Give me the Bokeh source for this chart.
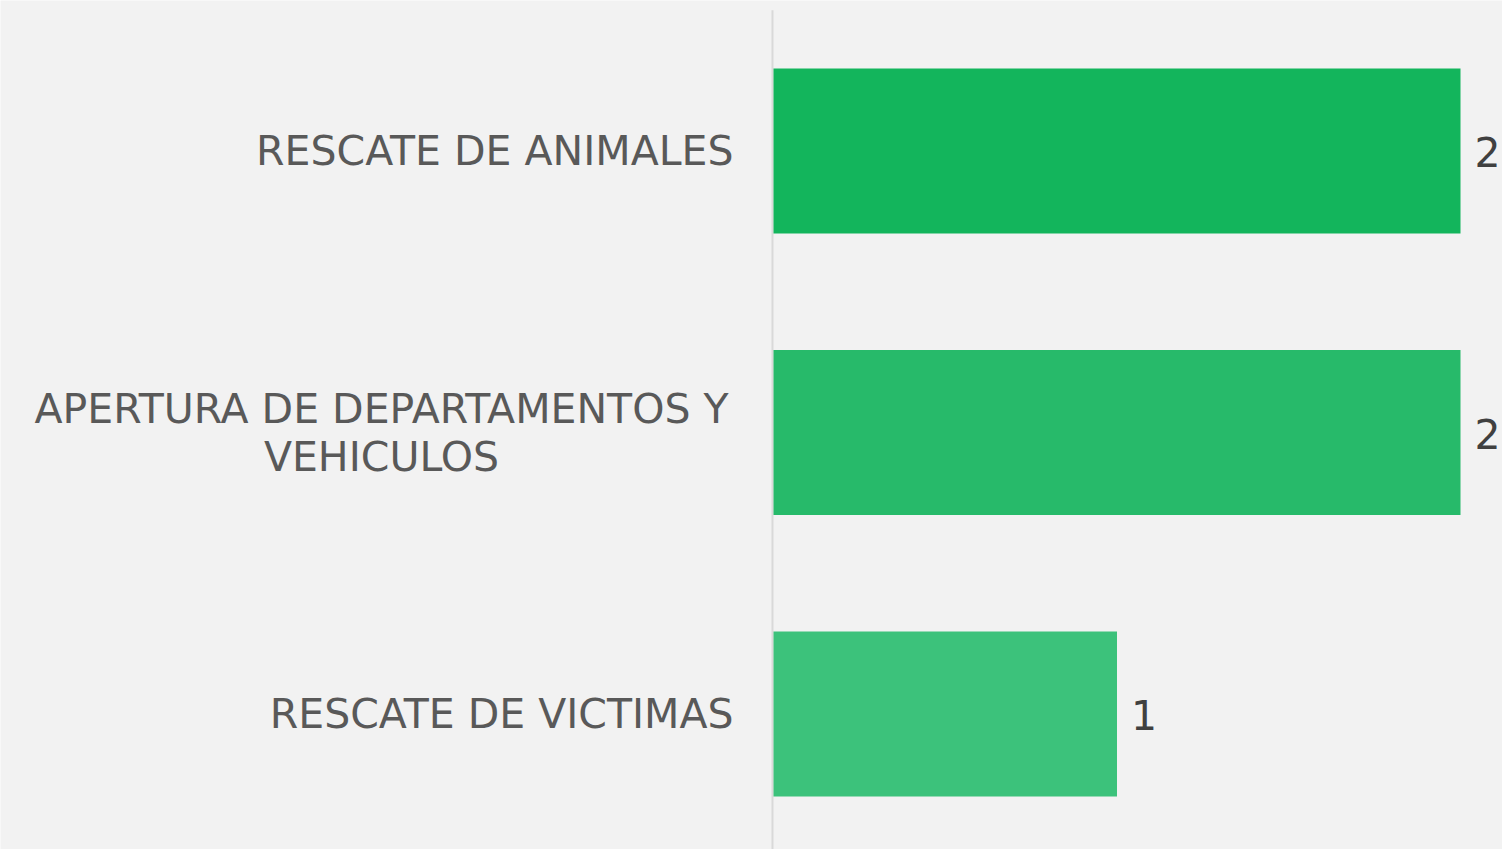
from bokeh.plotting import figure
from bokeh.models import Range1d, ColumnDataSource
from bokeh.core.properties import value
from bokeh.embed import file_html
from bokeh.resources import INLINE

categories = ["RESCATE DE ANIMALES", "APERTURA DE DEPARTAMENTOS Y\nVEHICULOS", "RESCATE DE VICTIMAS"]
values = [2, 2, 1]
colors = ["#13b55c", "#27ba6a", "#3cc27b"]

W, H = 1502, 849
x0_px = 773
unit_px = 343.5
row_px = 281.5
first_px = 150.5

ypos = list(range(len(categories)))
src = ColumnDataSource(dict(y=ypos, v=values, c=colors, vlab=[str(v) for v in values]))

single = [i for i, c in enumerate(categories) if "\n" not in c]
multi = [i for i, c in enumerate(categories) if "\n" in c]
src_single = ColumnDataSource(dict(y=[ypos[i] for i in single], lab=[categories[i] for i in single]))
src_multi = ColumnDataSource(dict(y=[ypos[i] for i in multi], lab=[categories[i] for i in multi]))

p = figure(width=W, height=H, output_backend="svg", toolbar_location=None,
           x_range=Range1d(-x0_px / unit_px, (W - x0_px) / unit_px),
           y_range=Range1d(len(categories) - 1 + (H - first_px - row_px * (len(categories) - 1)) / row_px,
                           -first_px / row_px),
           min_border=0, background_fill_color="#f2f2f2", border_fill_color="#f2f2f2",
           outline_line_color=None)
p.axis.visible = False
p.grid.visible = False

p.segment(x0=[-0.003], y0=[-0.5], x1=[-0.003], y1=[3], line_color="#d9d9d9", line_width=2)
p.hbar(y="y", right="v", left=0, height=0.586, fill_color="c", line_color=None, source=src)

font = value("DejaVu Sans")
fs = "41px"
p.text(x=0, y="y", text="lab", source=src_single, x_offset=-40, text_align="right",
       text_baseline="middle", text_font=font, text_font_size=fs, text_color="#595959")
p.text(x=0, y="y", text="lab", source=src_multi, x_offset=-40 - 352, text_align="center",
       text_baseline="middle", text_font=font, text_font_size=fs, text_color="#595959",
       text_line_height=1.0)
p.text(x="v", y="y", text="vlab", source=src, x_offset=14, y_offset=1, text_align="left",
       text_baseline="middle", text_font=font, text_font_size=fs, text_color="#404040")

open("out.html", "w").write(file_html(p, INLINE))
